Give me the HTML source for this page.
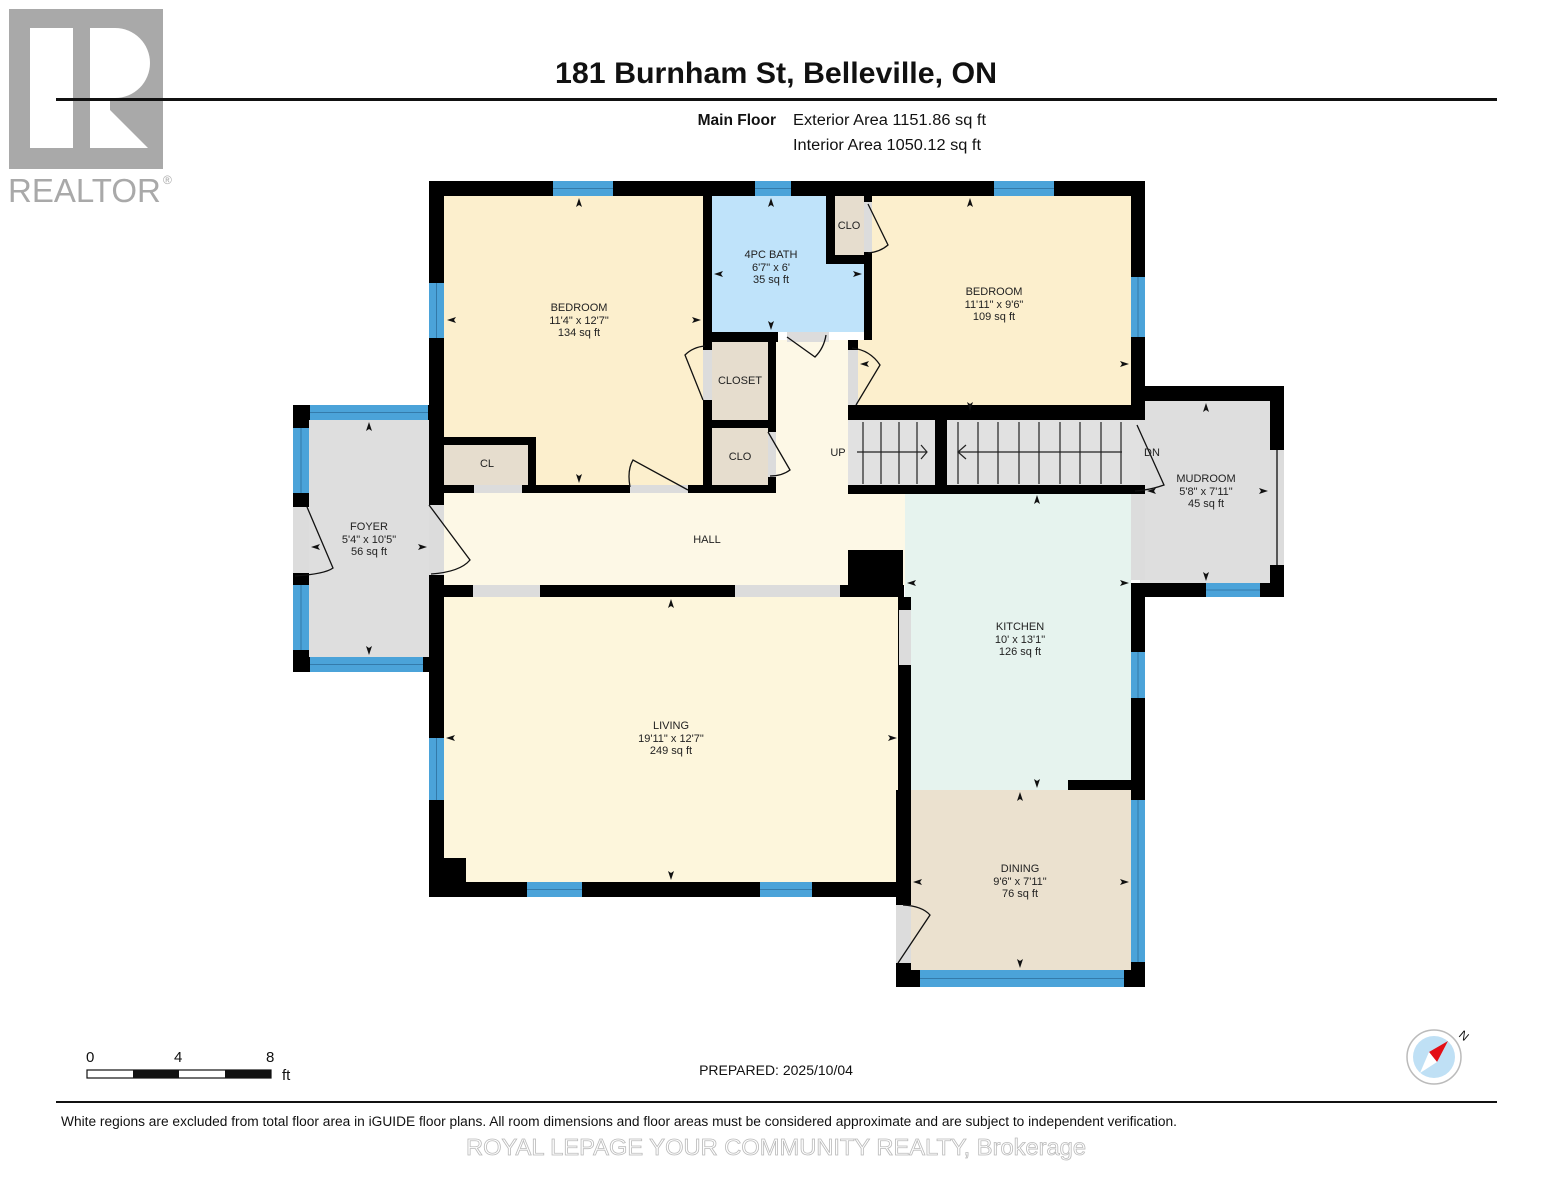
<!DOCTYPE html>
<html><head><meta charset="utf-8"><style>
html,body{margin:0;padding:0;background:#fff;}
svg{display:block;}
text{font-family:"Liberation Sans",sans-serif;}
</style></head><body>
<svg width="1553" height="1200" viewBox="0 0 1553 1200" xmlns="http://www.w3.org/2000/svg">
<!-- logo -->
<rect x="9" y="9" width="154" height="160" fill="#a9a9a9"/>
<rect x="30" y="28" width="43" height="120" fill="#fff"/>
<path d="M90 28 H115 A35 35 0 0 1 115 98 H90 Z" fill="#fff"/>
<rect x="90" y="28" width="20" height="120" fill="#fff"/>
<polygon points="90,90 148,148 90,148" fill="#fff"/>
<text x="8" y="202" font-size="33" fill="#a9a9a9">REALTOR</text>
<text x="163" y="184" font-size="12" fill="#a9a9a9">®</text>
<!-- title -->
<text x="776" y="83" font-size="30" font-weight="bold" text-anchor="middle" fill="#111" textLength="442" lengthAdjust="spacingAndGlyphs">181 Burnham St, Belleville, ON</text>
<rect x="56" y="98" width="1441" height="3" fill="#111"/>
<text x="776" y="125" font-size="15.5" font-weight="bold" text-anchor="end" fill="#111">Main Floor</text>
<text x="793" y="125" font-size="15.5" fill="#111" textLength="193" lengthAdjust="spacingAndGlyphs">Exterior Area 1151.86 sq ft</text>
<text x="793" y="150" font-size="15.5" fill="#111" textLength="188" lengthAdjust="spacingAndGlyphs">Interior Area 1050.12 sq ft</text>

<!-- room fills -->
<rect x="444" y="196" width="262" height="290" fill="#fcefcd"/>
<rect x="712" y="196" width="152" height="136" fill="#bfe3fa"/>
<rect x="835" y="196" width="29" height="59" fill="#e6ddce"/>
<rect x="870" y="196" width="261" height="217" fill="#fcefcd"/>
<rect x="858" y="340" width="20" height="73" fill="#fcefcd"/>
<rect x="776" y="340" width="80" height="155" fill="#fdf8e6"/>
<rect x="712" y="342" width="56" height="78" fill="#e6ddce"/>
<rect x="712" y="428" width="56" height="57" fill="#e6ddce"/>
<rect x="444" y="445" width="84" height="40" fill="#e6ddce"/>
<rect x="444" y="490" width="462" height="96" fill="#fdf8e6"/>
<rect x="848" y="420" width="292" height="66" fill="#e1e1e1"/>
<rect x="905" y="493" width="226" height="298" fill="#e6f3ee"/>
<rect x="1140" y="401" width="131" height="182" fill="#dedede"/>
<rect x="444" y="597" width="455" height="286" fill="#fdf6dc"/>
<rect x="911" y="790" width="222" height="182" fill="#ebe1cf"/>
<rect x="309" y="420" width="122" height="237" fill="#dedede"/>

<!-- stairs -->
<g stroke="#222" stroke-width="1.2" fill="none">
<path d="M863 422V484M881 422V484M899 422V484M917 422V484"/>
<path d="M958 422V484M978 422V484M998 422V484M1019 422V484M1039 422V484M1060 422V484M1080 422V484M1101 422V484M1121 422V484"/>
<path d="M857 452H927M921 445L927 452L921 459"/>
<path d="M958 452H1122M966 445L958 452L966 459"/>
</g>

<!-- walls -->
<g fill="#000">
<rect x="429" y="181" width="716" height="15"/>
<rect x="429" y="181" width="15" height="716"/>
<rect x="429" y="882" width="476" height="15"/>
<rect x="1131" y="181" width="14" height="232"/>
<rect x="703" y="196" width="9" height="146"/>
<rect x="703" y="332" width="75" height="10"/>
<rect x="864" y="196" width="8" height="144"/>
<rect x="826" y="196" width="9" height="68"/>
<rect x="826" y="255" width="40" height="9"/>
<rect x="703" y="342" width="9" height="150"/>
<rect x="768" y="340" width="8" height="152"/>
<rect x="703" y="420" width="73" height="8"/>
<rect x="444" y="485" width="332" height="8"/>
<rect x="444" y="437" width="92" height="8"/>
<rect x="528" y="437" width="8" height="56"/>
<rect x="848" y="405" width="297" height="15"/>
<rect x="848" y="340" width="10" height="80"/>
<rect x="848" y="485" width="297" height="9"/>
<rect x="935" y="420" width="12" height="66"/>
<rect x="444" y="585" width="460" height="12"/>
<rect x="848" y="550" width="55" height="47"/>
<rect x="898" y="597" width="13" height="300"/>
<rect x="896" y="790" width="15" height="197"/>
<rect x="896" y="970" width="249" height="17"/>
<rect x="1131" y="583" width="14" height="404"/>
<rect x="1068" y="780" width="70" height="10"/>
<rect x="1131" y="386" width="153" height="15"/>
<rect x="1270" y="386" width="14" height="211"/>
<rect x="1131" y="583" width="153" height="14"/>
<rect x="293" y="405" width="151" height="15"/>
<rect x="293" y="405" width="16" height="267"/>
<rect x="293" y="657" width="151" height="15"/>
<rect x="429" y="420" width="15" height="252"/>
<rect x="444" y="858" width="22" height="24"/>
</g>

<!-- openings (gaps) -->
<g fill="#dcdcdc">
<rect x="474" y="485" width="48" height="8"/>
<rect x="630" y="485" width="58" height="8"/>
<rect x="703" y="350" width="9" height="50"/>
<rect x="768" y="432" width="8" height="45"/>
<rect x="787" y="332" width="42" height="10"/>
<rect x="848" y="350" width="10" height="55"/>
<rect x="864" y="202" width="8" height="50"/>
<rect x="473" y="585" width="67" height="12"/>
<rect x="735" y="585" width="105" height="12"/>
<rect x="899" y="610" width="12" height="55"/>
<rect x="896" y="905" width="15" height="58"/>
<rect x="429" y="505" width="15" height="70"/>
<rect x="293" y="507" width="16" height="66"/>
<rect x="1131" y="494" width="14" height="86"/>
<rect x="1270" y="450" width="14" height="115"/>
</g>
<rect x="1276" y="450" width="2" height="115" fill="#555"/>

<!-- windows -->
<g fill="#4ba3d9">
<rect x="553" y="181" width="60" height="15"/>
<rect x="755" y="181" width="36" height="15"/>
<rect x="994" y="181" width="60" height="15"/>
<rect x="429" y="283" width="15" height="55"/>
<rect x="1131" y="277" width="14" height="60"/>
<rect x="1131" y="652" width="14" height="46"/>
<rect x="1131" y="800" width="14" height="162"/>
<rect x="920" y="970" width="204" height="17"/>
<rect x="1206" y="583" width="54" height="14"/>
<rect x="429" y="738" width="15" height="62"/>
<rect x="527" y="882" width="55" height="15"/>
<rect x="760" y="882" width="52" height="15"/>
<rect x="310" y="405" width="118" height="15"/>
<rect x="293" y="428" width="16" height="65"/>
<rect x="293" y="585" width="16" height="65"/>
<rect x="310" y="657" width="113" height="15"/>
</g>
<g stroke="#2e6f9c" stroke-width="0.8">
<path d="M553 188.5H613M755 188.5H791M994 188.5H1054M920 978.5H1124M1206 590H1260M527 889.5H582M760 889.5H812M310 412.5H428M310 664.5H423"/>
<path d="M436.5 283V338M1138 277V337M1138 652V698M1138 800V962M436.5 738V800M301 428V493M301 585V650"/>
</g>

<!-- door swings -->
<g stroke="#111" stroke-width="1.3" fill="none">
<path d="M688 490L633 460Q627 470 630 487"/>
<path d="M703 400L685 355Q693 347 705 346"/>
<path d="M768 432L790 470Q782 476 770 476"/>
<path d="M787 337L815 357Q824 348 826 335"/>
<path d="M856 405L880 365Q870 350 852 348"/>
<path d="M868 204L888 245Q880 252 868 253"/>
<path d="M429 505L470 560Q460 572 431 574"/>
<path d="M307 507L333 568Q325 574 295 576"/>
<path d="M1137 425L1164 485Q1150 490 1135 491"/>
<path d="M898 963L930 915Q922 906 903 905"/>
</g>

<!-- dimension arrows -->
<g fill="#111">
<path d="M579 198l-3 9 3-2 3 2z"/><path d="M579 483l-3-9 3 2 3-2z"/>
<path d="M447 320l9-3-2 3 2 3z"/><path d="M701 320l-9-3 2 3-2 3z"/>
<path d="M771 198l-3 9 3-2 3 2z"/><path d="M771 330l-3-9 3 2 3-2z"/>
<path d="M714 274l9-3-2 3 2 3z"/><path d="M862 274l-9-3 2 3-2 3z"/>
<path d="M970 198l-3 9 3-2 3 2z"/><path d="M970 411l-3-9 3 2 3-2z"/>
<path d="M860 364l9-3-2 3 2 3z"/><path d="M1129 364l-9-3 2 3-2 3z"/>
<path d="M1206 403l-3 9 3-2 3 2z"/><path d="M1206 581l-3-9 3 2 3-2z"/>
<path d="M1147 491l9-3-2 3 2 3z"/><path d="M1268 491l-9-3 2 3-2 3z"/>
<path d="M1037 495l-3 9 3-2 3 2z"/><path d="M1037 788l-3-9 3 2 3-2z"/>
<path d="M907 583l9-3-2 3 2 3z"/><path d="M1129 583l-9-3 2 3-2 3z"/>
<path d="M1020 792l-3 9 3-2 3 2z"/><path d="M1020 968l-3-9 3 2 3-2z"/>
<path d="M913 882l9-3-2 3 2 3z"/><path d="M1129 882l-9-3 2 3-2 3z"/>
<path d="M671 599l-3 9 3-2 3 2z"/><path d="M671 880l-3-9 3 2 3-2z"/>
<path d="M446 738l9-3-2 3 2 3z"/><path d="M897 738l-9-3 2 3-2 3z"/>
<path d="M369 422l-3 9 3-2 3 2z"/><path d="M369 655l-3-9 3 2 3-2z"/>
<path d="M311 547l9-3-2 3 2 3z"/><path d="M427 547l-9-3 2 3-2 3z"/>
</g>

<!-- labels -->
<g font-size="11" fill="#222" text-anchor="middle">
<text x="579" y="311">BEDROOM</text><text x="579" y="324">11'4" x 12'7"</text><text x="579" y="336">134 sq ft</text>
<text x="771" y="258">4PC BATH</text><text x="771" y="271">6'7" x 6'</text><text x="771" y="283">35 sq ft</text>
<text x="849" y="229">CLO</text>
<text x="994" y="295">BEDROOM</text><text x="994" y="308">11'11" x 9'6"</text><text x="994" y="320">109 sq ft</text>
<text x="740" y="384">CLOSET</text>
<text x="740" y="460">CLO</text>
<text x="487" y="467">CL</text>
<text x="838" y="456">UP</text>
<text x="1152" y="456">DN</text>
<text x="1206" y="482">MUDROOM</text><text x="1206" y="495">5'8" x 7'11"</text><text x="1206" y="507">45 sq ft</text>
<text x="707" y="543">HALL</text>
<text x="369" y="530">FOYER</text><text x="369" y="543">5'4" x 10'5"</text><text x="369" y="555">56 sq ft</text>
<text x="1020" y="630">KITCHEN</text><text x="1020" y="643">10' x 13'1"</text><text x="1020" y="655">126 sq ft</text>
<text x="671" y="729">LIVING</text><text x="671" y="742">19'11" x 12'7"</text><text x="671" y="754">249 sq ft</text>
<text x="1020" y="872">DINING</text><text x="1020" y="885">9'6" x 7'11"</text><text x="1020" y="897">76 sq ft</text>
</g>

<!-- scale -->
<g font-size="15" fill="#111">
<text x="86" y="1062">0</text><text x="174" y="1062">4</text><text x="266" y="1062">8</text><text x="282" y="1080">ft</text>
</g>
<rect x="87" y="1070" width="184" height="8" fill="#fff" stroke="#111" stroke-width="1.2"/>
<rect x="133" y="1070" width="46" height="8" fill="#111"/>
<rect x="225" y="1070" width="46" height="8" fill="#111"/>
<text x="776" y="1075" font-size="14" text-anchor="middle" fill="#111">PREPARED: 2025/10/04</text>
<!-- compass -->
<circle cx="1434" cy="1057" r="27" fill="#fff" stroke="#bbb" stroke-width="1.5"/>
<circle cx="1434" cy="1057" r="21" fill="#bfe0f5"/>
<polygon points="1448,1041 1437,1062 1429,1052" fill="#e30e16"/>
<polygon points="1420,1073 1437,1062 1429,1052" fill="#fff"/>
<text x="1458" y="1036" font-size="12" fill="#111" transform="rotate(40 1458 1036)">N</text>

<rect x="56" y="1101" width="1441" height="2" fill="#111"/>
<text x="61" y="1126" font-size="13.5" fill="#111" textLength="1116" lengthAdjust="spacingAndGlyphs">White regions are excluded from total floor area in iGUIDE floor plans. All room dimensions and floor areas must be considered approximate and are subject to independent verification.</text>
<text x="776" y="1155" font-size="23" text-anchor="middle" fill="#fff" stroke="#bbb" stroke-width="0.8" textLength="620" lengthAdjust="spacingAndGlyphs">ROYAL LEPAGE YOUR COMMUNITY REALTY, Brokerage</text>
</svg>
</body></html>
